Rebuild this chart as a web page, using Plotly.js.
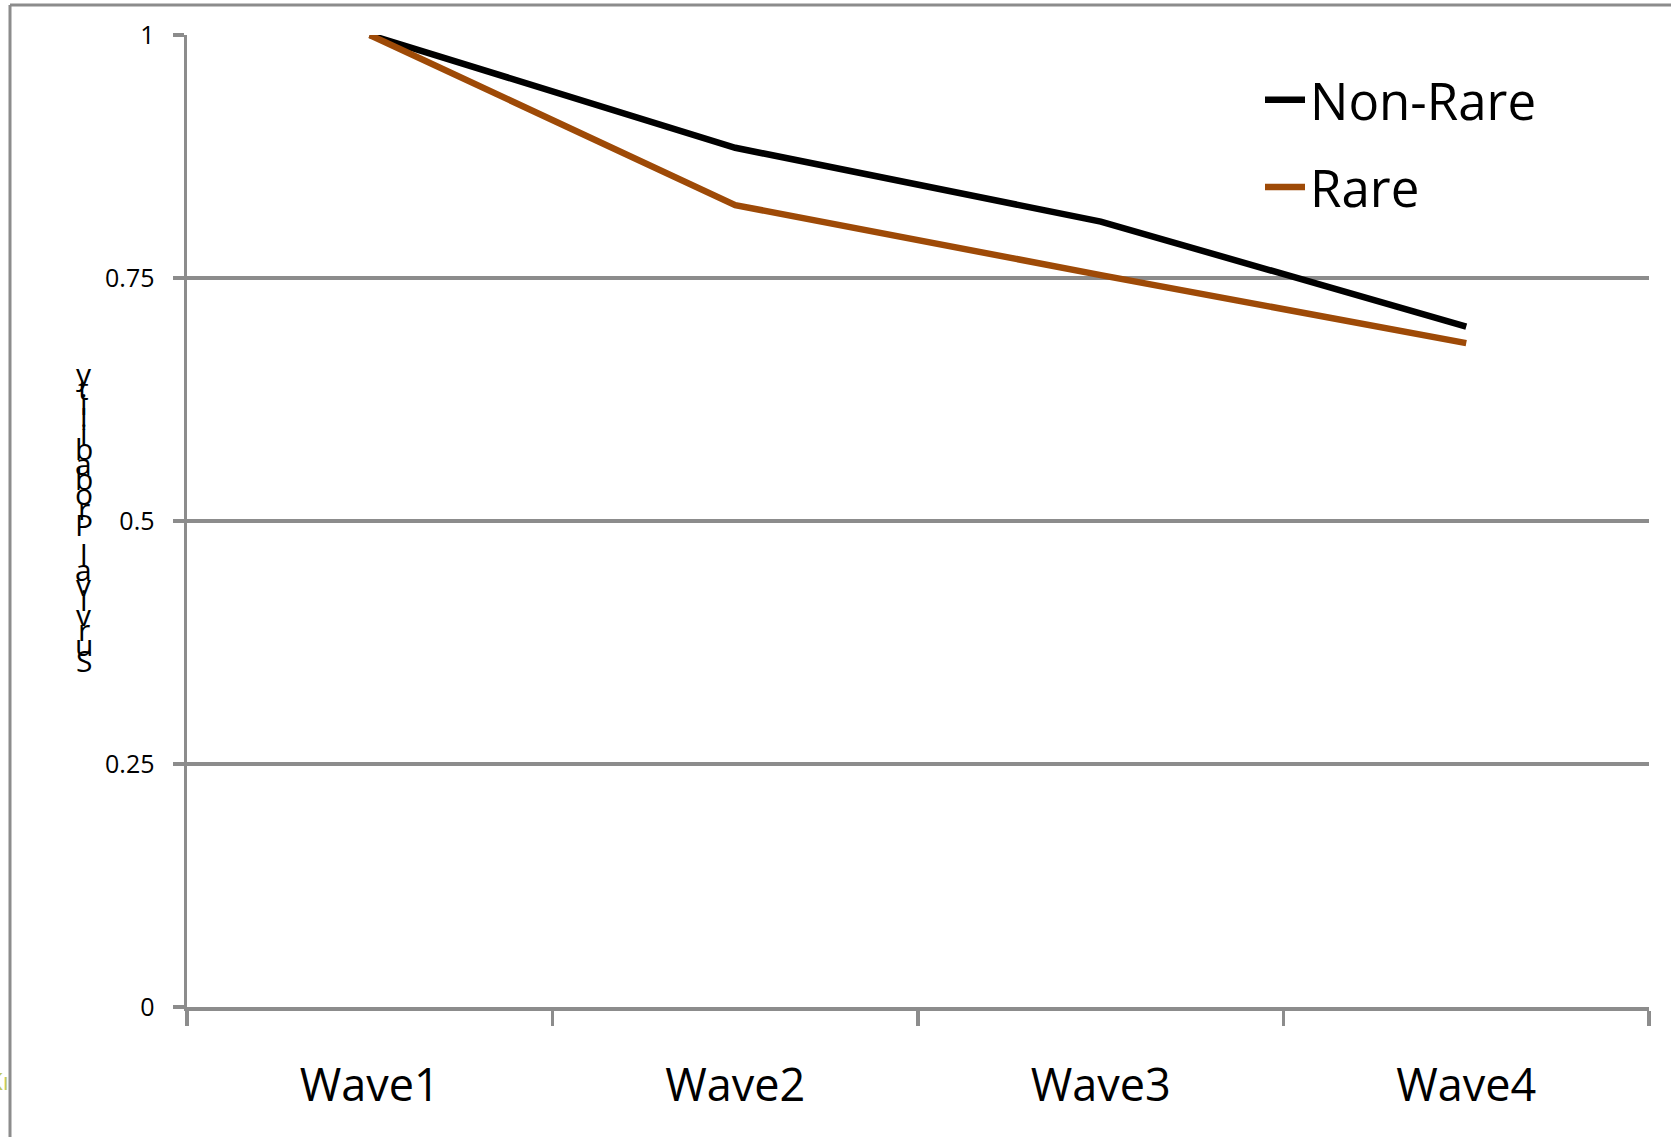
<!DOCTYPE html>
<html>
<head>
<meta charset="utf-8">
<script src="https://cdn.plot.ly/plotly-3.0.1.min.js"></script>
<style>
  html, body { margin: 0; padding: 0; background: #ffffff; }
  #chart { width: 1671px; height: 1137px; }
</style>
</head>
<body>
<div id="chart"></div>
<script>
// ---- data ----
const waves = ["Wave1", "Wave2", "Wave3", "Wave4"];
const nonRare = [1.0, 0.884, 0.808, 0.700];
const rare = [1.0, 0.825, 0.753, 0.683];
const seriesNames = ["Non-Rare", "Rare"];
const yTickValues = [0, 0.25, 0.5, 0.75, 1];
const yTickLabels = ["0", "0.25", "0.5", "0.75", "1"];
const yTitle = "Survival Probability";

const FONT = "Open Sans, Noto Sans, DejaVu Sans, sans-serif";
const GRID = "#8c8c8c";

const traces = [
  {
    x: waves, y: nonRare, name: seriesNames[0], type: "scatter", mode: "lines",
    line: { color: "#000000", width: 6.5 }, legendgroup: "a"
  },
  {
    x: waves, y: rare, name: seriesNames[1], type: "scatter", mode: "lines",
    line: { color: "#9e4a07", width: 6.5 }, legendgroup: "b"
  }
];

// plot area in pixels: x 187..1649, y 35..1007
const plotW = 1462, plotH = 972, plotL = 187, plotT = 35;
function px2paperX(px) { return (px - plotL) / plotW; }
function px2paperY(py) { return (plotT + plotH - py) / plotH; }

// stacked, reversed y-axis title characters
const chars = yTitle.split("").reverse();
const topY = 373, botY = 660;
const step = (botY - topY) / (chars.length - 1);
const annotations = chars.map((c, i) => ({
  text: c === " " ? "&nbsp;" : c,
  xref: "paper", yref: "paper",
  x: px2paperX(84), y: px2paperY(topY + i * step),
  xanchor: "center", yanchor: "middle",
  showarrow: false,
  font: { family: FONT, size: 30, color: "#000000" }
}));

annotations.push({
  text: "Kı", xref: "paper", yref: "paper",
  x: px2paperX(11), y: px2paperY(1080),
  xanchor: "right", yanchor: "middle", showarrow: false,
  font: { family: FONT, size: 24, color: "#c2c95a" }
});

const layout = {
  width: 1671, height: 1137,
  margin: { l: 187, r: 22, t: 35, b: 130 },
  paper_bgcolor: "#ffffff", plot_bgcolor: "#ffffff",
  showlegend: true,
  legend: {
    x: px2paperX(1260), y: px2paperY(60), xanchor: "left", yanchor: "top",
    font: { family: FONT, size: 51, color: "#000000" },
    traceorder: "grouped", tracegroupgap: 18,
    bgcolor: "rgba(0,0,0,0)", itemwidth: 40
  },
  xaxis: {
    type: "category",
    tickson: "boundaries",
    ticks: "outside", ticklen: 15, tickwidth: 3.5, tickcolor: GRID,
    showline: true, linecolor: GRID, linewidth: 3.5,
    showgrid: false, zeroline: false,
    tickfont: { family: FONT, size: 45, color: "#000000" },
    ticklabelstandoff: 36,
    range: [-0.5, 3.5],
    fixedrange: true
  },
  yaxis: {
    range: [0, 1],
    tickvals: yTickValues, ticktext: yTickLabels,
    ticks: "outside", ticklen: 11, tickwidth: 3.5, tickcolor: GRID,
    showline: true, linecolor: GRID, linewidth: 3.5,
    showgrid: true, gridcolor: GRID, gridwidth: 3.5,
    zeroline: false,
    tickfont: { family: FONT, size: 25, color: "#000000" },
    ticklabelstandoff: 13,
    fixedrange: true
  },
  shapes: [
    { type: "line", xref: "paper", yref: "paper",
      x0: px2paperX(10), x1: px2paperX(10), y0: px2paperY(5), y1: px2paperY(1140),
      line: { color: GRID, width: 3 } },
    { type: "line", xref: "paper", yref: "paper",
      x0: px2paperX(10), x1: px2paperX(1675), y0: px2paperY(5), y1: px2paperY(5),
      line: { color: GRID, width: 3 } }
  ],
  annotations: annotations
};

Plotly.newPlot("chart", traces, layout, { displayModeBar: false, staticPlot: true });
</script>
</body>
</html>
